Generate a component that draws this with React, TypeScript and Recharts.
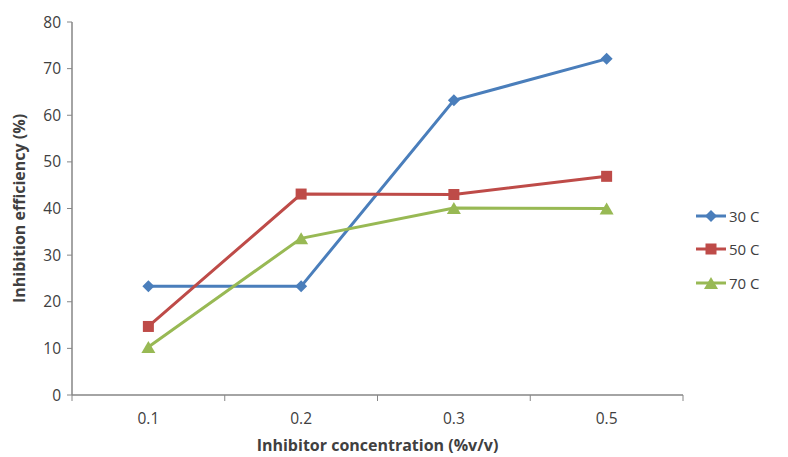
import { LineChart, Line, XAxis, YAxis } from 'recharts';

const concentrations = ['0.1', '0.2', '0.3', '0.5'];
const temp30 = [23.3, 23.3, 63.2, 72.1];
const temp50 = [14.7, 43.1, 43.0, 46.9];
const temp70 = [10.3, 33.6, 40.1, 40.0];
const yTicks = [0, 10, 20, 30, 40, 50, 60, 70, 80];

const series = [
  { key: 't30', name: '30 C', color: '#4A7EBB', shape: 'diamond' },
  { key: 't50', name: '50 C', color: '#BE4B48', shape: 'square' },
  { key: 't70', name: '70 C', color: '#98B954', shape: 'triangle' },
];

const data = concentrations.map((c, i) => ({
  conc: c,
  t30: temp30[i],
  t50: temp50[i],
  t70: temp70[i],
}));

const FONT = '"Open Sans", sans-serif';
const TEXT = '#404040';
const AXIS = '#868686';
const TICK_SIZE = 6;
const TICK_MARGIN = 11;

function Marker({ cx, cy, shape, color }: any) {
  if (cx == null || cy == null) return null;
  if (shape === 'diamond') {
    const r = 6;
    return <path d={`M${cx},${cy - r}L${cx + r},${cy}L${cx},${cy + r}L${cx - r},${cy}Z`} fill={color} />;
  }
  if (shape === 'square') {
    const s = 5.5;
    return <rect x={cx - s} y={cy - s} width={s * 2} height={s * 2} fill={color} />;
  }
  const h = 6;
  return <path d={`M${cx},${cy - h}L${cx + h + 1},${cy + h}L${cx - h - 1},${cy + h}Z`} fill={color} />;
}

// category label plus Excel-style tick marks between categories
function XTick(props: any) {
  const { x, y, payload, index, visibleTicksCount } = props;
  const axisY = y - TICK_SIZE - TICK_MARGIN;
  const half = payload.offset || 0;
  return (
    <g>
      <line x1={x - half} x2={x - half} y1={axisY} y2={axisY + TICK_SIZE} stroke={AXIS} />
      {index === visibleTicksCount - 1 && (
        <line x1={x + half} x2={x + half} y1={axisY} y2={axisY + TICK_SIZE} stroke={AXIS} />
      )}
      <text x={x} y={y} dy="0.8em" textAnchor="middle" fill={TEXT} fontSize={15.5} fontFamily={FONT}>
        {payload.value}
      </text>
    </g>
  );
}

function LegendIcon({ shape, color }: any) {
  return (
    <svg width={32} height={16} style={{ display: 'block' }}>
      <line x1={1} x2={31} y1={8} y2={8} stroke={color} strokeWidth={3} />
      <Marker cx={16} cy={8} shape={shape} color={color} />
    </svg>
  );
}

export default function App() {
  return (
    <div style={{ position: 'absolute', left: 0, top: 0, width: 788, height: 457, background: '#fff' }}>
      <LineChart width={788} height={457} data={data} margin={{ top: 22, right: 105, bottom: 0, left: 0 }}>
        <XAxis
          dataKey="conc"
          scale="band"
          height={62}
          tickLine={false}
          tickSize={TICK_SIZE}
          tickMargin={TICK_MARGIN}
          axisLine={{ stroke: AXIS, strokeWidth: 1.5 }}
          tick={<XTick />}
          label={{
            value: 'Inhibitor concentration (%v/v)',
            position: 'insideBottom',
            offset: 6,
            style: { fontFamily: FONT, fontSize: 16, fontWeight: 700, fill: TEXT },
          }}
        />
        <YAxis
          width={72}
          domain={[0, 80]}
          ticks={yTicks}
          tickSize={5}
          tickMargin={6}
          tickLine={{ stroke: AXIS }}
          axisLine={{ stroke: AXIS, strokeWidth: 1.5 }}
          tick={{ fontFamily: FONT, fontSize: 15.5, fill: TEXT }}
          label={{
            value: 'Inhibition efficiency (%)',
            angle: -90,
            position: 'insideLeft',
            offset: 19,
            style: { textAnchor: 'middle', fontFamily: FONT, fontSize: 16, fontWeight: 700, fill: TEXT },
          }}
        />
        {series.map((s) => (
          <Line
            key={s.key}
            dataKey={s.key}
            name={s.name}
            stroke={s.color}
            strokeWidth={3}
            isAnimationActive={false}
            dot={(p: any) => <Marker key={`${s.key}-${p.index}`} cx={p.cx} cy={p.cy} shape={s.shape} color={s.color} />}
            activeDot={false}
          />
        ))}
      </LineChart>
      <div style={{ position: 'absolute', left: 695, top: 199, fontFamily: FONT, fontSize: 15, color: TEXT }}>
        {series.map((s) => (
          <div key={s.key} style={{ display: 'flex', alignItems: 'center', height: 33.5 }}>
            <LegendIcon shape={s.shape} color={s.color} />
            <span style={{ marginLeft: 2 }}>{s.name}</span>
          </div>
        ))}
      </div>
    </div>
  );
}
